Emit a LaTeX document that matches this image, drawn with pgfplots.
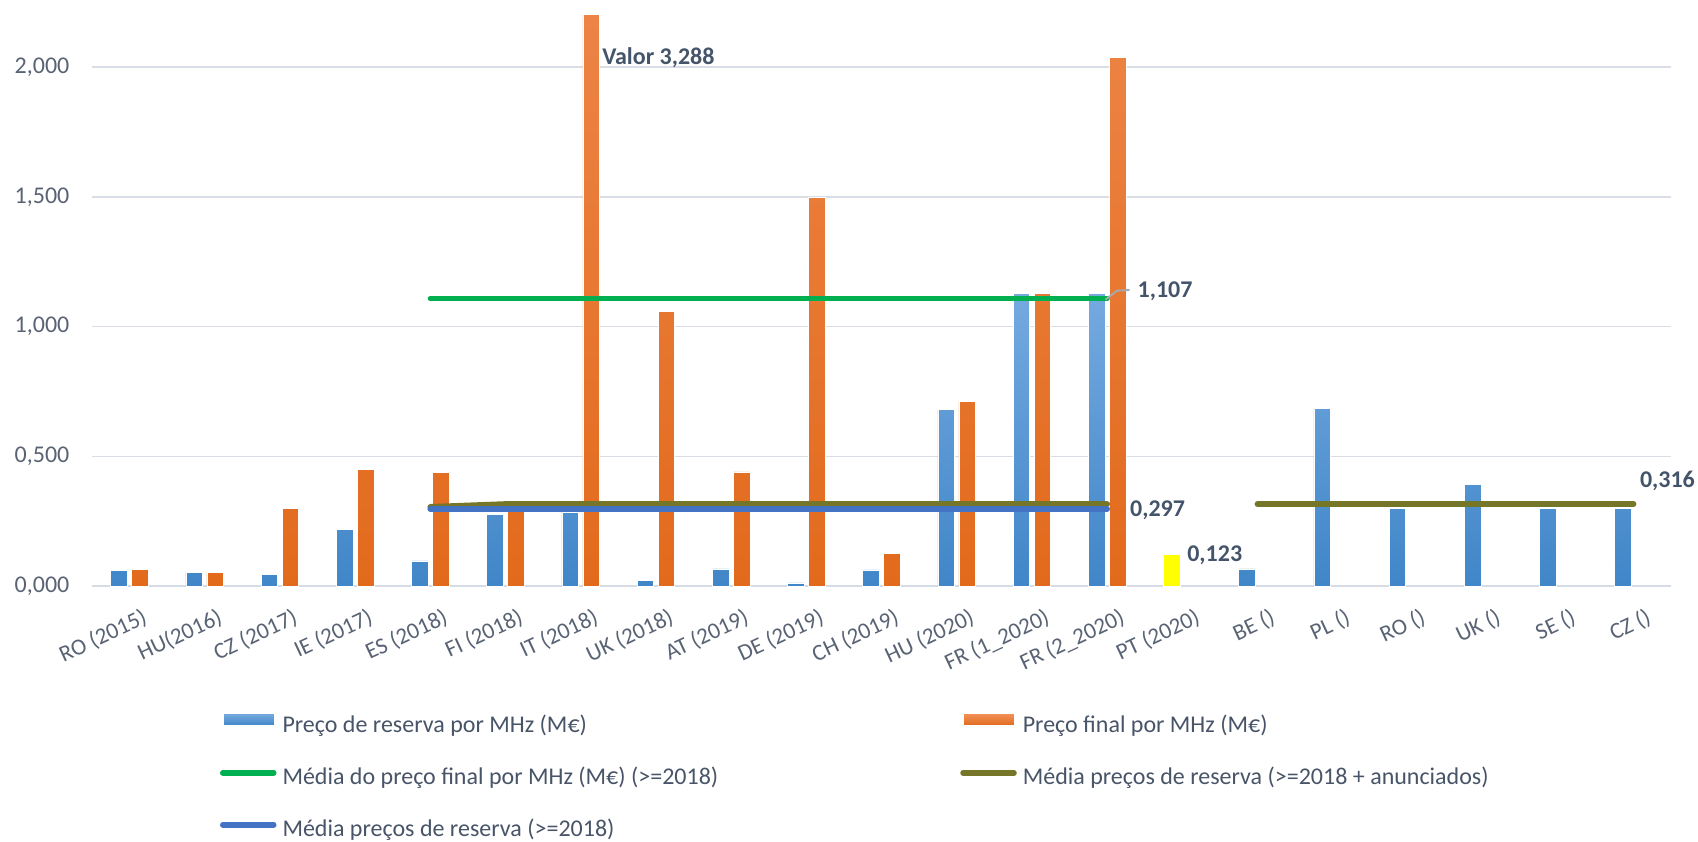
\documentclass[border=0pt]{standalone}
\usepackage{fontspec}
\setmainfont{Carlito}
\usepackage{pgfplots}
\pgfplotsset{compat=1.18}
\definecolor{bluetop}{RGB}{117,170,224}
\definecolor{bluebot}{RGB}{64,134,200}
\definecolor{orgtop}{RGB}{242,145,90}
\definecolor{orgbot}{RGB}{226,106,28}
\definecolor{greenc}{RGB}{0,176,80}
\definecolor{olivec}{RGB}{118,118,40}
\definecolor{blueline}{RGB}{68,114,196}
\definecolor{yellowc}{RGB}{255,255,0}
\definecolor{gridc}{RGB}{217,222,230}
\definecolor{axisc}{RGB}{214,220,229}
\definecolor{tickc}{RGB}{89,99,116}
\definecolor{labc}{RGB}{68,84,106}
\definecolor{legc}{RGB}{72,84,104}
\definecolor{leaderc}{RGB}{166,170,176}
\begin{document}
\begin{tikzpicture}
\begin{axis}[
  name=ax,
  scale only axis,
  width=658pt, height=237.9pt,
  xmin=-0.5, xmax=20.5, ymin=0, ymax=2.2,
  clip mode=individual,
  axis line style={draw=none},
  tick style={draw=none},
  ymajorgrids,
  grid style={color=gridc, line width=0.6pt},
  ytick={0,0.5,1,1.5,2},
  yticklabel style={font=\fontsize{10}{12}\selectfont, color=tickc, anchor=east, inner sep=0pt, xshift=-9.2pt,
    /pgf/number format/.cd, fixed, fixed zerofill, precision=3, use comma, 1000 sep={}, assume math mode=true},
  extra y ticks={0}, extra y tick labels={},
  extra y tick style={grid style={color=axisc, line width=1.1pt}},
  xtick={0,...,20},
  xticklabels={RO (2015), HU(2016), CZ (2017), IE (2017), ES (2018), FI (2018), IT (2018), UK (2018), AT (2019), DE (2019), CH (2019), HU (2020), FR (1\_2020), FR (2\_2020), PT (2020), BE (), PL (), RO (), UK (), SE (), CZ ()},
  xticklabel style={font=\fontsize{9.6}{11}\selectfont, color=tickc, rotate=25, anchor=north east, inner sep=0pt, xshift=0.8pt, yshift=-10pt},
  legend columns=2,
  legend cell align=left,
  legend style={draw=none, fill=none, at={(0.0811,-0.2228)}, anchor=north west, inner sep=0pt, outer sep=0pt,
    font=\fontsize{10}{12}\selectfont, text=legc, row sep=12.67pt,
    nodes={inner sep=0pt, text height=7pt, text depth=2pt},
    /tikz/every odd column/.append style={column sep=2.5pt},
    /tikz/every even column/.append style={column sep=0pt}},
]
\addplot[ybar, bar width=0.22, bar shift=-0.14, draw=white, line width=0.3pt, top color=bluetop, bottom color=bluebot,
  legend image code/.code={\fill[top color=bluetop, bottom color=bluebot] (0pt,0.3pt) rectangle (21.25pt,5.3pt);}]
coordinates {(0,0.059) (1,0.054) (2,0.044) (3,0.217) (4,0.097) (5,0.275) (6,0.285) (7,0.022) (8,0.066) (9,0.012) (10,0.062) (11,0.682) (12,1.127) (13,1.127) (15,0.066) (16,0.684) (17,0.300) (18,0.393) (19,0.300) (20,0.300)};
\addlegendentry{\makebox[282.4pt][l]{Preço de reserva por MHz (M€)}}
\addplot[ybar, bar width=0.22, bar shift=0.14, draw=white, line width=0.3pt, top color=orgtop, bottom color=orgbot,
  legend image code/.code={\fill[top color=orgtop, bottom color=orgbot] (0pt,0.3pt) rectangle (21.25pt,5.3pt);}]
coordinates {(0,0.064) (1,0.054) (2,0.299) (3,0.449) (4,0.437) (5,0.290) (6,3.288) (7,1.059) (8,0.440) (9,1.499) (10,0.125) (11,0.713) (12,1.127) (13,2.036)};
\addlegendentry{Preço final por MHz (M€)}
\addplot[ybar, bar width=0.22, bar shift=-0.14, draw=white, line width=0.3pt, fill=yellowc, forget plot]
coordinates {(14,0.123)};
\addplot[color=greenc, line width=2.2pt, line cap=round, mark=none,
  legend image code/.code={\draw[color=greenc, line width=2.3pt, line cap=round] (-0.25pt,2.3pt) -- (21pt,2.3pt);}]
coordinates {(4,1.107) (13,1.107)};
\addlegendentry{Média do preço final por MHz (M€) (>=2018)}
\addplot[color=olivec, line width=2.4pt, line cap=round, mark=none,
  legend image code/.code={\draw[color=olivec, line width=2.3pt, line cap=round] (-0.25pt,2.3pt) -- (21pt,2.3pt);}]
coordinates {(4,0.305) (5,0.316) (13,0.316)};
\addlegendentry{Média preços de reserva (>=2018 + anunciados)}
\addplot[color=olivec, line width=2.4pt, line cap=round, mark=none, forget plot]
coordinates {(15,0.316) (20,0.316)};
\addplot[color=blueline, line width=2.4pt, line cap=round, mark=none,
  legend image code/.code={\draw[color=blueline, line width=2.3pt, line cap=round] (-0.25pt,2.3pt) -- (21pt,2.3pt);}]
coordinates {(4,0.297) (13,0.297)};
\addlegendentry{Média preços de reserva (>=2018)}
\draw[color=leaderc, line width=0.8pt] (axis cs:12.98,1.104) -- (axis cs:13.13,1.138) -- (axis cs:13.30,1.141);
\node[anchor=west, inner sep=0pt, font=\fontsize{10}{12}\selectfont\bfseries, text=labc] at (axis cs:6.28,2.035) {Valor 3,288};
\node[anchor=west, inner sep=0pt, font=\fontsize{10}{12}\selectfont\bfseries, text=labc] at (axis cs:13.40,1.135) {1,107};
\node[anchor=west, inner sep=0pt, font=\fontsize{10}{12}\selectfont\bfseries, text=labc] at (axis cs:13.30,0.293) {0,297};
\node[anchor=west, inner sep=0pt, font=\fontsize{10}{12}\selectfont\bfseries, text=labc] at (axis cs:14.06,0.117) {0,123};
\node[anchor=west, inner sep=0pt, font=\fontsize{10}{12}\selectfont\bfseries, text=labc] at (axis cs:20.08,0.407) {0,316};
\end{axis}
\path[use as bounding box] ([shift={(-38.3pt,-104.55pt)}]ax.south west) rectangle ++(707.5pt,348.75pt);
\end{tikzpicture}
\end{document}
